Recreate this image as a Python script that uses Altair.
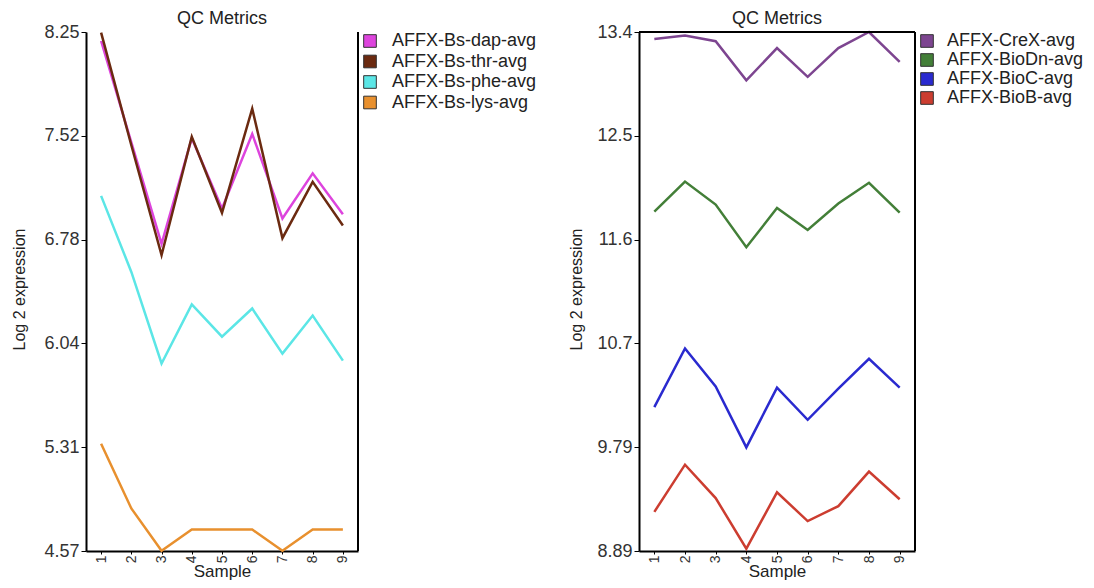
import altair as alt
import pandas as pd

FONT = "Liberation Sans"

samples = ["1", "2", "3", "4", "5", "6", "7", "8", "9"]

# Left panel series
left_names = ["AFFX-Bs-dap-avg", "AFFX-Bs-thr-avg", "AFFX-Bs-phe-avg", "AFFX-Bs-lys-avg"]
dap = [8.19, 7.47, 6.75, 7.50, 7.00, 7.53, 6.93, 7.25, 6.96]
thr = [8.25, 7.45, 6.67, 7.51, 6.97, 7.71, 6.79, 7.19, 6.88]
phe = [7.09, 6.55, 5.90, 6.32, 6.09, 6.29, 5.97, 6.24, 5.92]
lys = [5.33, 4.87, 4.57, 4.72, 4.72, 4.72, 4.57, 4.72, 4.72]
left_colors = ["#DD44DD", "#6B2A10", "#5BE6E6", "#E8902E"]
left_ticks = [4.568, 5.3052, 6.0424, 6.7796, 7.5168, 8.254]

# Right panel series
right_names = ["AFFX-CreX-avg", "AFFX-BioDn-avg", "AFFX-BioC-avg", "AFFX-BioB-avg"]
crex = [13.34, 13.37, 13.32, 12.98, 13.26, 13.01, 13.26, 13.40, 13.14]
biodn = [11.84, 12.10, 11.90, 11.53, 11.87, 11.68, 11.91, 12.09, 11.83]
bioc = [10.14, 10.65, 10.32, 9.79, 10.31, 10.03, 10.30, 10.56, 10.31]
biob = [9.23, 9.64, 9.35, 8.91, 9.40, 9.15, 9.28, 9.58, 9.34]
right_colors = ["#7D4590", "#437F38", "#2A2ACF", "#CC3D30"]
right_ticks = [8.89, 9.792, 10.694, 11.596, 12.498, 13.4]


def long_df(names, series):
    rows = []
    for name, vals in zip(names, series):
        for s, v in zip(samples, vals):
            rows.append({"Sample": s, "Value": v, "Series": name})
    return pd.DataFrame(rows)


left_df = long_df(left_names, [dap, thr, phe, lys])
right_df = long_df(right_names, [crex, biodn, bioc, biob])

H = 519


def panel(df, names, colors, ticks, width, title_x, title_y, boxed, label_offset, row_pad):
    x = alt.X(
        "Sample:O", sort=samples, scale=alt.Scale(padding=0.5),
        axis=alt.Axis(title="Sample", labelAngle=270, labelAlign="right", labelBaseline="middle",
                      labelFontSize=14, labelFont=FONT, labelColor="#333", labelPadding=1,
                      tickSize=3, tickColor="black", domainColor="black", domainWidth=2,
                      titleFontSize=17, titleFont=FONT, titleColor="#222", titleFontWeight="normal",
                      titlePadding=1, grid=False),
    )
    y = alt.Y(
        "Value:Q", scale=alt.Scale(domain=[ticks[0], ticks[-1]], nice=False, zero=False),
        axis=alt.Axis(values=ticks, format=".3r", title="Log 2 expression", titleX=title_x, titleY=title_y,
                      titleFontSize=16, titleFont=FONT, titleColor="#222", titleFontWeight="normal",
                      labelFontSize=18, labelFont=FONT, labelColor="#333", labelPadding=2, labelFlush=False,
                      tickSize=5, tickColor="black", domainColor="black", domainWidth=2, grid=False),
    )
    lines = alt.Chart(df).mark_line(strokeWidth=2.5).encode(
        x=x, y=y,
        color=alt.Color("Series:N", sort=names, scale=alt.Scale(domain=names, range=colors), legend=None),
    )
    keys = alt.Chart(df).transform_filter("false").mark_square(filled=True, opacity=1).encode(
        x=alt.X("Sample:O", sort=samples), y=alt.Y("Value:Q"),
        fill=alt.Fill("Series:N", sort=names, scale=alt.Scale(domain=names, range=colors),
                      legend=alt.Legend(title=None, symbolType="square", symbolSize=160,
                                        symbolStrokeColor="#333", symbolStrokeWidth=1, symbolOpacity=1,
                                        labelFontSize=18, labelFont=FONT, labelColor="#222",
                                        labelOffset=label_offset, labelLimit=400, rowPadding=row_pad,
                                        offset=3, padding=0, orient="right")),
    )
    edge_df = pd.DataFrame({"k": [0]})
    layers = [lines, keys,
              alt.Chart(edge_df).mark_rule(color="black", strokeWidth=2).encode(
                  x=alt.value(width), y=alt.value(0), y2=alt.value(H))]
    if boxed:
        layers.append(alt.Chart(edge_df).mark_rule(color="black", strokeWidth=2).encode(
            x=alt.value(0), x2=alt.value(width), y=alt.value(0)))
    return alt.layer(*layers).properties(
        width=width, height=H,
        title=alt.TitleParams("QC Metrics", fontSize=18, font=FONT, fontWeight="normal",
                              color="#222", anchor="middle", offset=-5),
    ).resolve_scale(color="independent", fill="independent")


left = panel(left_df, left_names, left_colors, left_ticks, 272, -59, 257, False, 13, 2.5)
right = panel(right_df, right_names, right_colors, right_ticks, 276, -55, 257, True, 11, 1)

chart = alt.hconcat(left, right, spacing=31).resolve_scale(
    color="independent", fill="independent", x="independent", y="independent"
).resolve_legend(color="independent", fill="independent").properties(
    padding={"left": 3, "top": 2, "right": 0, "bottom": 0}
).configure_view(stroke=None)

chart.save("out.html", embed_options={"renderer": "svg", "actions": False})
